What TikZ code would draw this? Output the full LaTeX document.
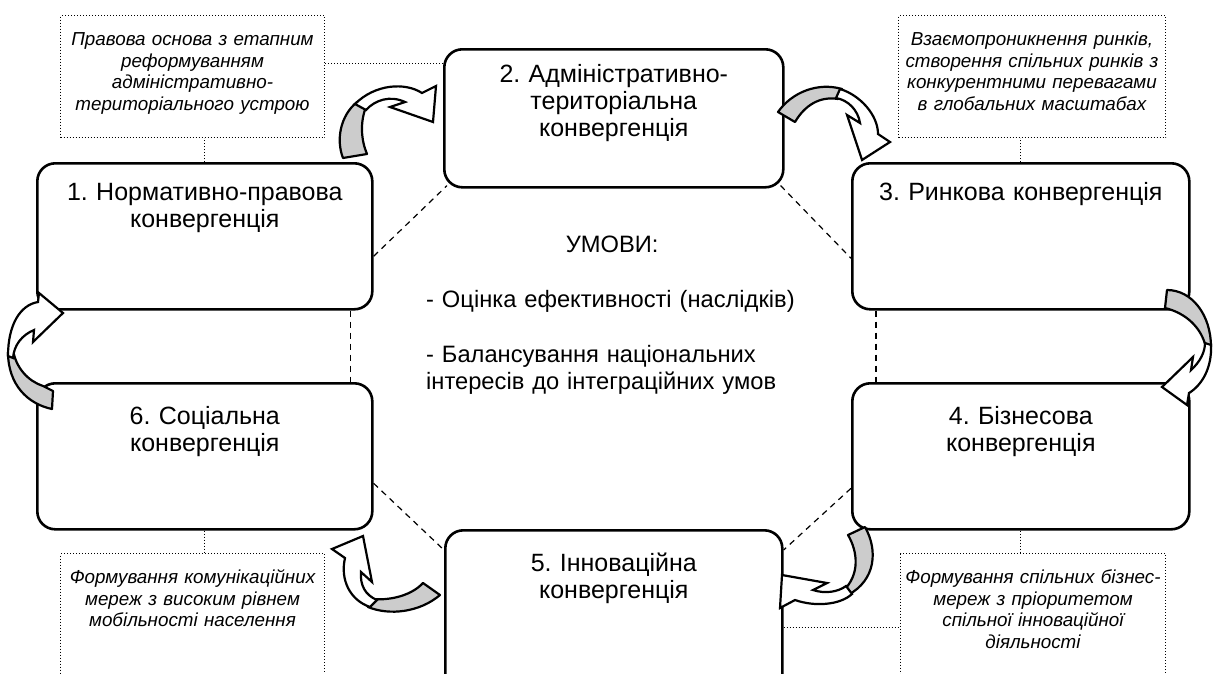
\documentclass[tikz,border=0pt]{standalone}
\usepackage{fontspec}
\setmainfont{Liberation Sans}
\usepackage{tikz}
\usetikzlibrary{calc}
\frenchspacing
\tikzset{
  box/.style={draw, line width=2.6pt, rounded corners=18pt, fill=white, inner sep=0pt,
    align=center, anchor=north west, font=\fontsize{25}{27}\selectfont},
  note/.style={draw, dotted, line width=1pt, inner sep=0pt, align=center,
    anchor=north west, font=\fontsize{18.8}{21.5}\selectfont\itshape},
  cond/.style={inner sep=0pt, align=left, anchor=base west, font=\fontsize{23.7}{27.5}\selectfont},
  link/.style={line width=1.2pt, dash pattern=on 6pt off 5pt},
  noteline/.style={line width=1pt, dotted},
  backface/.style={fill=black!20, draw, line width=2.2pt, line join=round},
  frontface/.style={fill=white, draw, line width=2.2pt, line join=miter, miter limit=4},
}
\begin{document}
\begin{tikzpicture}[x=1pt,y=-1pt]
\useasboundingbox (0,0) rectangle (1214,673);
\clip (0,0) rectangle (1214,673);

\node[note, text width=264pt, text height=30pt, text depth=92pt] (n1) at (60,15)
  {Правова основа з етапним\\реформуванням\\адміністративно-\\територіального устрою};
\node[note, text width=267pt, text height=30pt, text depth=92pt] (n2) at (898,15)
  {Взаємопроникнення ринків,\\створення спільних ринків з\\конкурентними перевагами\\в глобальних масштабах};
\node[note, text width=264pt, text height=30pt, text depth=130pt] (n6) at (60,553)
  {Формування комунікаційних\\мереж з високим рівнем\\мобільності населення};
\node[note, text width=265pt, text height=30pt, text depth=130pt] (n4) at (900,553)
  {Формування спільних бізнес-\\мереж з пріоритетом\\спільної інноваційної\\діяльності};

\node[box, text width=335pt, text height=37pt, text depth=109pt] (b1) at (36,162)
  {1. Нормативно-правова\\конвергенція};
\node[box, text width=339pt, text height=33pt, text depth=105pt] (b2) at (443,48)
  {2. Адміністративно-\\територіальна\\конвергенція};
\node[box, text width=337pt, text height=37pt, text depth=109pt] (b3) at (851,162)
  {3. Ринкова конвергенція};
\node[box, text width=337pt, text height=41pt, text depth=105pt] (b4) at (851,382)
  {4. Бізнесова\\конвергенція};
\node[box, text width=337pt, text height=41pt, text depth=160pt] (b5) at (444,529)
  {5. Інноваційна\\конвергенція};
\node[box, text width=335pt, text height=41pt, text depth=105pt] (b6) at (36,382)
  {6. Соціальна\\конвергенція};

\node[cond, text width=372pt] (cond) at (426,252)
  {\makebox[\linewidth][c]{УМОВИ:}\\[27.5pt]
   - Оцінка ефективності (наслідків)\\[27.5pt]
   - Балансування національних\\інтересів до інтеграційних умов};

\draw[noteline] (b1.north) -- (b1.north |- n1.south);
\draw[noteline] ([yshift=13pt]n1.east) -- ([yshift=13pt]n1.east -| b2.west);
\draw[noteline] (b3.north) -- (b3.north |- n2.south);
\draw[noteline] (b6.south) -- (b6.south |- n6.north);
\draw[noteline] (b4.south) -- (b4.south |- n4.north);
\draw[noteline] ([yshift=-98pt]b5.north east) -- ([yshift=-98pt]b5.north east -| n4.west);

\draw[link] ([yshift=-20pt]b1.east) -- ([xshift=4pt,yshift=3pt]b2.south west);
\draw[link] ([xshift=-4pt,yshift=3pt]b2.south east) -- ([yshift=-22pt]b3.west);
\draw[link] ([xshift=-23pt]b1.south east) -- ([xshift=-23pt]b6.north east);
\draw[link] ([xshift=25pt]b3.south west) -- ([xshift=25pt]b4.north west);
\draw[link] ([yshift=-27pt]b6.east) -- ([yshift=-21pt]b5.north west);
\draw[link] ([yshift=-32pt]b4.west) -- ([yshift=-21pt]b5.north east);

\filldraw[backface] (52,409) .. controls (28,404) and (8,385) .. (8,352) -- (13,350)
  .. controls (16,368) and (28,381) .. (43,386) -- (53,391) -- cycle;
\filldraw[frontface] (8,356) .. controls (8,325) and (20,305) .. (38,302) -- (39,293) -- (63,313)
  -- (33,342) -- (34,330) .. controls (22,335) and (14,345) .. (13,358) -- cycle;

\filldraw[backface] (343,158) .. controls (336,140) and (340,116) .. (357,102) -- (366,107)
  .. controls (360,122) and (361,140) .. (367,154) -- cycle;
\filldraw[frontface] (355,104) .. controls (375,84) and (405,82) .. (422,93) -- (436,86) -- (433,122)
  -- (390,107) -- (405,102) .. controls (390,95) and (375,100) .. (366,110) -- cycle;

\filldraw[backface] (778,112) .. controls (792,92) and (818,82) .. (842,89) -- (838,99)
  .. controls (820,96) and (805,105) .. (795,122) -- cycle;
\filldraw[frontface] (840,89) .. controls (860,95) and (878,115) .. (878,134) -- (890,142) -- (862,160)
  -- (847,115) -- (860,123) .. controls (858,110) and (848,100) .. (836,98) -- cycle;

\filldraw[backface] (1167,290) .. controls (1192,290) and (1211,315) .. (1211,347) -- (1206,348)
  .. controls (1202,328) and (1186,313) .. (1165,308) -- cycle;
\filldraw[frontface] (1211,345) .. controls (1212,368) and (1202,385) .. (1189,393) -- (1187,405)
  -- (1162,387) -- (1193,357) -- (1191,370) .. controls (1200,362) and (1205,352) .. (1205,343) -- cycle;

\filldraw[backface] (848,535) -- (865,527) .. controls (878,550) and (876,580) .. (848,595) -- (843,591)
  .. controls (860,575) and (858,552) .. (848,535) -- cycle;
\filldraw[frontface] (852,594) .. controls (840,605) and (815,607) .. (795,600) -- (780,608) -- (782,575)
  -- (827,583) -- (813,590) .. controls (825,594) and (838,592) .. (846,586) -- cycle;

\filldraw[backface] (423,583) -- (440,595) .. controls (420,612) and (390,616) .. (368,607) -- (364,598)
  .. controls (385,602) and (410,597) .. (423,583) -- cycle;
\filldraw[frontface] (370,607) .. controls (350,600) and (340,580) .. (345,558) -- (332,549) -- (363,536)
  -- (372,582) -- (361,572) .. controls (360,585) and (365,595) .. (377,600) -- cycle;
\end{tikzpicture}
\end{document}
